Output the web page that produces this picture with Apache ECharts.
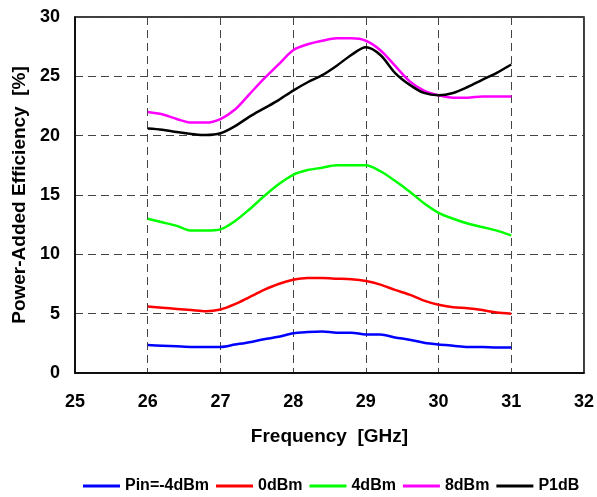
<!DOCTYPE html>
<html>
<head>
<meta charset="utf-8">
<script src="https://cdn.jsdelivr.net/npm/echarts@6/dist/echarts.min.js"></script>
<style>
  html, body { margin: 0; padding: 0; background: #fff; }
  #chart { width: 597px; height: 497px; }
</style>
</head>
<body>
<div id="chart"></div>
<script>
  // frequency points (GHz)
  const freq = [26.0, 26.2, 26.4, 26.6, 26.8, 27.0, 27.2, 27.4, 27.6, 27.8, 28.0, 28.2, 28.4,
    28.6, 28.8, 29.0, 29.2, 29.4, 29.6, 29.8, 30.0, 30.2, 30.4, 30.6, 30.8, 31.0]

  const pinM4 = [2.35, 2.3, 2.25, 2.2, 2.2, 2.2, 2.4, 2.6, 2.85, 3.05, 3.35, 3.45, 3.5,
    3.4, 3.4, 3.25, 3.25, 3.0, 2.8, 2.55, 2.4, 2.3, 2.2, 2.2, 2.15, 2.15]
  const pin0 = [5.6, 5.5, 5.4, 5.3, 5.2, 5.35, 5.8, 6.4, 7.0, 7.5, 7.85, 8.0, 8.0,
    7.95, 7.9, 7.75, 7.45, 7.0, 6.6, 6.1, 5.75, 5.55, 5.45, 5.3, 5.1, 5.0]
  const pin4 = [13.0, 12.7, 12.4, 12.0, 12.0, 12.1, 12.8, 13.8, 14.9, 15.9, 16.7, 17.1, 17.3,
    17.5, 17.5, 17.5, 17.0, 16.2, 15.3, 14.3, 13.5, 13.0, 12.6, 12.3, 12.0, 11.6]
  const pin8 = [22.0, 21.8, 21.4, 21.1, 21.1, 21.4, 22.2, 23.5, 24.8, 26.0, 27.2, 27.7, 28.0,
    28.2, 28.2, 28.0, 27.2, 25.9, 24.6, 23.8, 23.4, 23.2, 23.2, 23.3, 23.3, 23.3]
  const p1dB = [20.6, 20.5, 20.3, 20.15, 20.05, 20.2, 20.8, 21.6, 22.3, 23.0, 23.8, 24.5, 25.1,
    25.9, 26.8, 27.45, 26.8, 25.3, 24.3, 23.6, 23.4, 23.6, 24.1, 24.7, 25.3, 26.0]

  const names = ['Pin=-4dBm', '0dBm', '4dBm', '8dBm', 'P1dB']
  const colors = ['#0000ff', '#ff0000', '#00ff00', '#ff00ff', '#000000']
  const values = [pinM4, pin0, pin4, pin8, p1dB]

  const font = 'Liberation Sans, Arial, sans-serif'
  const chart = echarts.init(document.getElementById('chart'))

  chart.setOption({
    animation: false,
    grid: {
      left: 75,
      right: 11,
      top: 17,
      bottom: 124,
      show: true,
      borderColor: '#000',
      borderWidth: 1.5
    },
    legend: {
      top: 473,
      left: 78,
      icon: 'rect',
      itemWidth: 37,
      itemHeight: 3,
      itemGap: 7,
      textStyle: { fontFamily: font, fontWeight: 'bold', fontSize: 16, color: '#000' },
      data: names
    },
    xAxis: {
      type: 'value',
      min: 25,
      max: 32,
      interval: 1,
      name: 'Frequency  [GHz]',
      nameLocation: 'middle',
      nameGap: 54,
      nameTextStyle: { fontFamily: font, fontWeight: 'bold', fontSize: 19, color: '#000' },
      axisLine: { lineStyle: { color: '#000', width: 1.5 } },
      axisTick: { show: false },
      axisLabel: { margin: 20, fontFamily: font, fontWeight: 'bold', fontSize: 18, color: '#000' },
      splitLine: { lineStyle: { type: [8, 5], color: '#444', width: 1 } }
    },
    yAxis: {
      type: 'value',
      min: 0,
      max: 30,
      interval: 5,
      name: 'Power-Added Efficiency  [%]',
      nameLocation: 'middle',
      nameGap: 44,
      nameTextStyle: { fontFamily: font, fontWeight: 'bold', fontSize: 19, color: '#000' },
      axisLine: { show: true, lineStyle: { color: '#000', width: 1.5 } },
      axisTick: { show: false },
      axisLabel: { margin: 15, fontFamily: font, fontWeight: 'bold', fontSize: 18, color: '#000' },
      splitLine: { lineStyle: { type: [8, 5], color: '#444', width: 1 } }
    },
    series: names.map((n, i) => ({
      name: n,
      type: 'line',
      data: freq.map((f, j) => [f, values[i][j]]),
      showSymbol: false,
      smooth: 0.3,
      color: colors[i],
      lineStyle: { width: 2.5, color: colors[i] }
    }))
  })
</script>
</body>
</html>
